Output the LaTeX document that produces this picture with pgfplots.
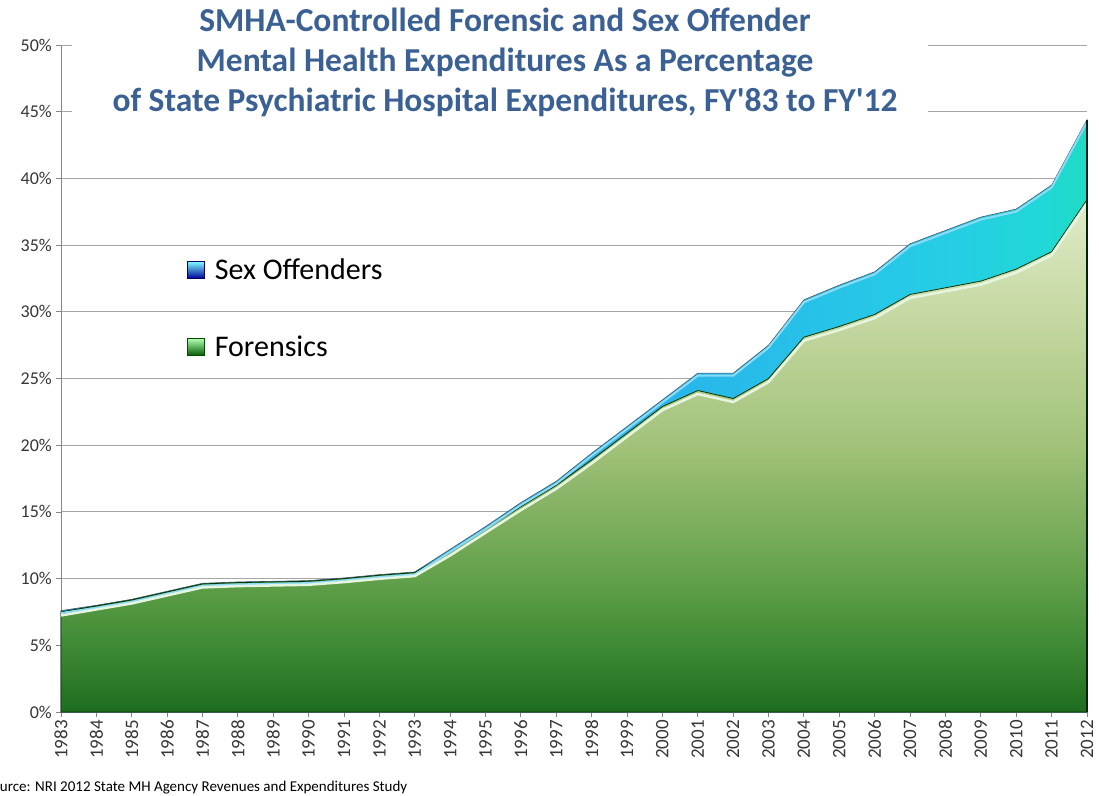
\documentclass[border=0pt]{standalone}
\usepackage{pgfplots}
\pgfplotsset{compat=1.18}
\usepackage{pgfplotstable}
\usepackage{fontspec}
\setmainfont{Carlito}
\definecolor{titleblue}{HTML}{3A6094}
\definecolor{gridgray}{HTML}{A6A6A6}
\definecolor{axgray}{HTML}{868686}
\definecolor{ticktext}{HTML}{363636}
\pgfdeclareverticalshading{greenarea}{100bp}{
  color(0bp)=(rgb,255:red,30;green,108;blue,30);
  color(25bp)=(rgb,255:red,30;green,108;blue,30);
  color(31.5bp)=(rgb,255:red,63;green,138;blue,53);
  color(38bp)=(rgb,255:red,98;green,160;blue,74);
  color(51bp)=(rgb,255:red,162;green,194;blue,122);
  color(64bp)=(rgb,255:red,198;green,217;blue,163);
  color(75bp)=(rgb,255:red,224;green,235;blue,200);
  color(100bp)=(rgb,255:red,224;green,235;blue,200)}
\pgfdeclarehorizontalshading{cyanband}{100bp}{
  color(0bp)=(rgb,255:red,30;green,150;blue,225);
  color(25bp)=(rgb,255:red,30;green,150;blue,225);
  color(55bp)=(rgb,255:red,40;green,182;blue,234);
  color(67.5bp)=(rgb,255:red,38;green,204;blue,230);
  color(73bp)=(rgb,255:red,32;green,216;blue,214);
  color(75bp)=(rgb,255:red,30;green,218;blue,196);
  color(100bp)=(rgb,255:red,30;green,218;blue,196)}
\pgfplotstableread{
year forensic total
1983 7.50 7.60
1984 7.95 8.00
1985 8.40 8.45
1986 9.00 9.05
1987 9.60 9.65
1988 9.70 9.75
1989 9.75 9.80
1990 9.80 9.85
1991 10.00 10.05
1992 10.25 10.30
1993 10.45 10.50
1994 12.00 12.20
1995 13.70 13.90
1996 15.40 15.70
1997 17.00 17.30
1998 18.90 19.40
1999 20.90 21.40
2000 22.90 23.40
2001 24.10 25.40
2002 23.50 25.40
2003 25.00 27.50
2004 28.10 30.90
2005 28.90 32.00
2006 29.80 33.00
2007 31.30 35.10
2008 31.80 36.10
2009 32.30 37.10
2010 33.20 37.70
2011 34.50 39.50
2012 38.40 44.40
}\datatable
\begin{document}
\begin{tikzpicture}
\path[use as bounding box] (0pt,0pt) rectangle (1099pt,-795pt);
\begin{axis}[
  at={(61pt,-712pt)}, anchor=origin,
  scale only axis, width=1026pt, height=667pt,
  xmin=1983, xmax=2012, ymin=0, ymax=50,
  axis x line*=bottom, axis y line*=left,
  axis line style={axgray, line width=0.8pt},
  xtick={1983,...,2012},
  ytick={0,5,...,50},
  yticklabels={0\%,5\%,10\%,15\%,20\%,25\%,30\%,35\%,40\%,45\%,50\%},
  /pgf/number format/1000 sep={},
  /pgf/number format/assume math mode=true,
  xticklabel style={rotate=90, anchor=east, font=\fontsize{19}{19}\selectfont, text=ticktext, inner sep=3pt},
  yticklabel style={font=\fontsize{18}{18}\selectfont, text=ticktext, inner sep=4pt},
  tick align=outside,
  major tick length=5pt,
  tick style={axgray, line width=0.8pt},
  ymajorgrids, major grid style={gridgray, line width=0.9pt},
  legend style={at={(rel axis cs:0.123,0.683)}, anchor=north west, draw=none, fill=none,
    font=\fontsize{30}{32}\selectfont, row sep=51pt, inner sep=0pt,
    /tikz/every odd column/.append style={column sep=8pt}},
  legend cell align=left,
  clip=false,
]
\addplot[draw=black!70!cyan, line width=0.6pt, shading=cyanband,
  legend image code/.code={\shade[top color=cyan!50!white, bottom color=blue!60!black, draw=blue!40!black, line width=0.4pt] (0pt,-8.5pt) rectangle (17pt,8.5pt);}]
  table[x=year, y=total] {\datatable} \closedcycle;
\addlegendentry{Sex Offenders}
\addplot[draw=black!80!green, line width=0.8pt, shading=greenarea,
  legend image code/.code={\shade[top color=green!30!white, bottom color=green!35!black, draw=black!70!green, line width=0.4pt] (0pt,-8.5pt) rectangle (17pt,8.5pt);}]
  table[x=year, y=forensic] {\datatable} \closedcycle;
\addlegendentry{Forensics}
\addplot[forget plot, draw=cyan!45!white, line width=2pt, yshift=-2.5pt] table[x=year, y=total] {\datatable};
\addplot[forget plot, draw=yellow!15!green!12!white, line width=2.5pt, yshift=-3.5pt] table[x=year, y=forensic] {\datatable};
\draw[black!70!teal, line width=2.5pt] (axis cs:2012,38.4) -- (axis cs:2012,44.4);
\draw[black!85!green, line width=2.5pt] (axis cs:2012,0) -- (axis cs:2012,38.4);
\end{axis}
\fill[white] (72pt,0pt) rectangle (928pt,-122pt);
\node[font=\fontsize{33.5}{40}\selectfont\bfseries, text=titleblue, align=center, anchor=center] at (505pt,-62pt)
  {SMHA-Controlled Forensic and Sex Offender\\Mental Health Expenditures As a Percentage\\of State Psychiatric Hospital Expenditures, FY\textquotesingle83 to FY\textquotesingle12};
\begin{scope}
\clip (0pt,0pt) rectangle (1099pt,-795pt);
\node[overlay, font=\fontsize{15}{15}\selectfont, anchor=base west, inner sep=0pt] at (-15pt,-791pt)
  {Source: NRI 2012 State MH Agency Revenues and Expenditures Study};
\end{scope}
\end{tikzpicture}
\end{document}
